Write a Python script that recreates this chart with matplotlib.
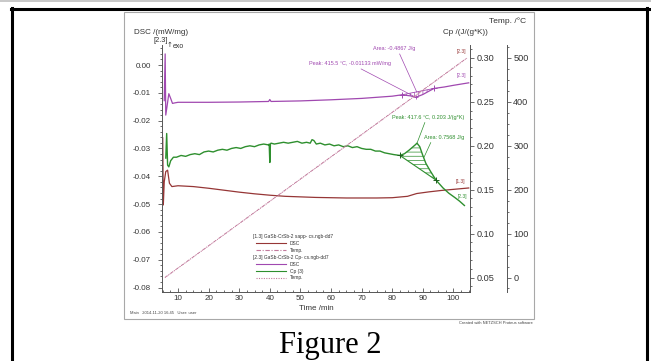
import numpy as np
import matplotlib
matplotlib.use("Agg")
import matplotlib.pyplot as plt
from matplotlib.lines import Line2D
from matplotlib.patches import Rectangle
from matplotlib.ticker import MultipleLocator, FormatStrFormatter

plt.rcParams["font.family"] = ["Liberation Sans", "DejaVu Sans"]
plt.rcParams["axes.unicode_minus"] = False
plt.rcParams["hatch.linewidth"] = 0.5

W, H = 651, 361

# [1.3] DSC (red), time /min vs DSC /(mW/mg)
red_t = [5.0, 5.2, 5.5, 6.0, 6.6, 7.2, 8.0, 10, 15, 20, 25, 30, 35, 40, 45, 50, 55, 60,
         65, 70, 75, 80, 85, 88, 92, 96, 100, 105]
red_dsc = [-0.0262, -0.0503, -0.0420, -0.0383, -0.0378, -0.0425, -0.0437, -0.0434, -0.0437,
           -0.0443, -0.0450, -0.0457, -0.0463, -0.0468, -0.0472, -0.0474, -0.0476, -0.0477,
           -0.0478, -0.0478, -0.0478, -0.0477, -0.0472, -0.0462, -0.0456, -0.0451, -0.0447, -0.0442]

# [2.3] DSC (purple)
purple_t = [5.5, 5.8, 6.0, 6.4, 7.0, 7.6, 8.2, 9, 10, 20, 30, 39.6, 40.0, 40.4, 50, 60, 70,
            80, 83.2, 86, 87.7, 90, 92, 93.7, 97, 100, 105]
purple_dsc = [-0.0128, 0.0040, -0.0180, -0.0150, -0.0103, -0.0120, -0.0138, -0.0136, -0.0134,
              -0.0134, -0.0133, -0.0131, -0.0124, -0.0131, -0.0129, -0.0125, -0.0120,
              -0.0112, -0.0107, -0.0111, -0.0116, -0.0106, -0.0094, -0.0084, -0.0079, -0.0073, -0.0064]

# [2.3] Cp (3) (green), J/(g*K)
green_t = [6.0, 6.3, 6.6, 7.0, 7.6, 8.5, 9.5, 11, 12.5, 14, 15.5, 17, 18.5, 20, 21.5, 23, 24.5,
           26, 27.5, 29, 30.5, 32, 33.5, 35, 36.5, 38, 39.6, 39.8, 40.0, 40.2, 40.4, 41.5, 43,
           44.5, 46, 47.5, 49, 50.5, 52, 53.2, 53.8, 54.4, 55.2, 56.5, 58, 59.5, 61, 62.5, 64,
           65.5, 67, 68.5, 70, 71.5, 73, 74.5, 76, 77.5, 79, 80.5, 82.5, 84, 85.5, 86.5, 87.5,
           88.1, 89, 90, 91, 92.5, 94.3, 96.6, 98.5, 100.5, 102, 103.6]
green_cp = [0.186, 0.214, 0.178, 0.176, 0.183, 0.187, 0.187, 0.189, 0.188, 0.190, 0.191, 0.190,
            0.193, 0.194, 0.193, 0.195, 0.196, 0.195, 0.197, 0.198, 0.197, 0.199, 0.200, 0.199,
            0.201, 0.202, 0.201, 0.202, 0.181, 0.202, 0.203, 0.202, 0.203, 0.204, 0.203, 0.204,
            0.205, 0.203, 0.204, 0.203, 0.207, 0.206, 0.202, 0.203, 0.201, 0.202, 0.200, 0.201,
            0.199, 0.200, 0.198, 0.199, 0.197, 0.196, 0.196, 0.194, 0.194, 0.192, 0.191, 0.190,
            0.189, 0.191, 0.195, 0.198, 0.201, 0.203, 0.199, 0.189, 0.180, 0.171, 0.161, 0.152,
            0.146, 0.141, 0.137, 0.132]

# Temp. /°C for both runs
temp13_t = [5.7, 104.4]
temp13_c = [0, 500]
temp23_t = [5.8, 104.5]
temp23_c = [0, 500]

# evaluated peaks / areas
purple_marks_t = [83.2, 93.7]
purple_marks_dsc = [-0.0107, -0.0084]
green_marks_t = [82.5, 94.3]
green_marks_cp = [0.189, 0.161]

C_RED = "#963636"
C_PUR = "#a048b0"
C_GRN = "#2e8f2e"
C_TMP = "#c27a9c"
C_AX = "#555555"


def fx(x):
    return x / W


def fy(y):
    return 1 - y / H


fig = plt.figure(figsize=(W / 100, H / 100), dpi=100)

# page frame
fig.add_artist(Line2D([0, 1], [fy(0.8), fy(0.8)], color="#c8c8c8", lw=1.4, transform=fig.transFigure))
fig.add_artist(Line2D([fx(11), fx(649)], [fy(8.6), fy(8.6)], color="black", lw=2.2, transform=fig.transFigure))
fig.add_artist(Line2D([fx(12), fx(12)], [fy(8), 0], color="black", lw=2.2, transform=fig.transFigure))
fig.add_artist(Line2D([fx(647), fx(647)], [fy(8), 0], color="black", lw=2.2, transform=fig.transFigure))
fig.add_artist(Rectangle((fx(124), fy(319)), (534 - 124) / W, (319 - 12) / H, facecolor="white",
                         edgecolor="#a8a8a8", lw=0.8, transform=fig.transFigure, zorder=-5))

ax = fig.add_axes([fx(162), fy(292), (470 - 162) / W, (292 - 45) / H])
ax.patch.set_alpha(0)
ax2 = ax.twinx()
ax3 = ax.twinx()

ax.set_xlim(4.77, 105.42)
ax.set_ylim(-0.0816, 0.0072)
ax2.set_ylim(0.0335, 0.3148)
ax3.set_ylim(-33.0, 529.6)

# curves
ax.plot(red_t, red_dsc, color=C_RED, lw=0.9)
ax.plot(purple_t, purple_dsc, color=C_PUR, lw=0.9)
ax2.plot(green_t, green_cp, color=C_GRN, lw=1.0)
ax3.plot(temp13_t, temp13_c, color=C_TMP, lw=0.6, ls=(0, (4, 1.5, 1, 1.5)))
ax3.plot(temp23_t, temp23_c, color=C_TMP, lw=0.6, ls=(0, (1, 1.2)))

# purple peak evaluation
ax.plot(purple_marks_t, purple_marks_dsc, color=C_PUR, lw=0.6)
ax.plot(purple_marks_t, purple_marks_dsc, "+", color=C_PUR, ms=4, mew=0.7)
pt = np.array(purple_t)
pm = (pt >= purple_marks_t[0]) & (pt <= purple_marks_t[1])
pseg_t = np.concatenate(([purple_marks_t[0]], pt[pm], [purple_marks_t[1]]))
pseg_v = np.interp(pseg_t, purple_t, purple_dsc)
pbase = np.interp(pseg_t, purple_marks_t, purple_marks_dsc)
ax.fill_between(pseg_t, pseg_v, pbase, facecolor="none", edgecolor=C_PUR, hatch="||||", lw=0)
ax.plot([87.7], [-0.0116], "+", color=C_PUR, ms=3.5, mew=0.6)

# green peak evaluation
ax2.plot(green_marks_t, green_marks_cp, color=C_GRN, lw=0.8)
ax2.plot(green_marks_t, green_marks_cp, "+", color="#1f5f1f", ms=4.5, mew=0.7)
gt = np.array(green_t)
gm = (gt >= green_marks_t[0]) & (gt <= green_marks_t[1])
gseg_t = gt[gm]
gseg_v = np.array(green_cp)[gm]
gbase = np.interp(gseg_t, green_marks_t, green_marks_cp)
ax2.fill_between(gseg_t, gseg_v, gbase, facecolor="none", edgecolor=C_GRN, hatch="----", lw=0)

# annotations
lp = dict(arrowstyle="-", lw=0.5, shrinkA=0, shrinkB=0)
ax.annotate("Peak: 415.5 \u00b0C, -0.01133 mW/mg", xy=(87.7, -0.0116), xytext=(52.8, 0.0005),
            fontsize=4, color=C_PUR, va="center", ha="left",
            arrowprops=dict(lp, color=C_PUR, relpos=(0.57, 0)))
ax.annotate("Area: -0.4867 J/g", xy=(88.1, -0.0099), xytext=(73.7, 0.0059),
            fontsize=4, color=C_PUR, va="center", ha="left",
            arrowprops=dict(lp, color=C_PUR, relpos=(0.6, 0)))
ax2.annotate("Peak: 417.6 \u00b0C, 0.203 J/(g*K)", xy=(88.1, 0.203), xytext=(79.9, 0.2326),
             fontsize=4, color=C_GRN, va="center", ha="left",
             arrowprops=dict(lp, color=C_GRN, relpos=(0.47, 0)))
ax2.annotate("Area: 0.7568 J/g", xy=(90.4, 0.187), xytext=(90.4, 0.2098),
             fontsize=4, color=C_GRN, va="center", ha="left",
             arrowprops=dict(lp, color=C_GRN, relpos=(0.2, 0)))

# curve end labels
ax3.text(102.6, 515, "[2.3]", fontsize=3.5, color=C_RED, ha="center", va="center")
ax.text(102.6, -0.0036, "[2.3]", fontsize=3.5, color=C_PUR, ha="center", va="center")
ax.text(102.2, -0.0418, "[1.3]", fontsize=3.5, color=C_RED, ha="center", va="center")
ax2.text(102.8, 0.142, "[2.3]", fontsize=3.5, color=C_GRN, ha="center", va="center")

# axes styling
for a in (ax, ax2, ax3):
    for s in a.spines.values():
        s.set_visible(False)
        s.set_color(C_AX)
        s.set_linewidth(0.7)
ax.spines["left"].set_visible(True)
ax.spines["bottom"].set_visible(True)
ax2.spines["right"].set_visible(True)
ax3.spines["right"].set_visible(True)
ax3.spines["right"].set_position(("axes", 1 + 37 / 308))

ax.xaxis.set_major_locator(MultipleLocator(10))
ax.xaxis.set_minor_locator(MultipleLocator(2.5))
ax.yaxis.set_major_locator(MultipleLocator(0.01))
ax.yaxis.set_minor_locator(MultipleLocator(0.002))
ax.yaxis.set_major_formatter(FormatStrFormatter("%.2f"))
ax2.yaxis.set_major_locator(MultipleLocator(0.05))
ax2.yaxis.set_minor_locator(MultipleLocator(0.01))
ax2.yaxis.set_major_formatter(FormatStrFormatter("%.2f"))
ax3.yaxis.set_major_locator(MultipleLocator(100))
ax3.yaxis.set_minor_locator(MultipleLocator(25))

ax.tick_params(axis="x", which="both", direction="in", top=False, colors=C_AX,
               labelcolor="#333333", labelsize=5.8, pad=2.5, width=0.6)
ax.tick_params(axis="x", which="major", length=3)
ax.tick_params(axis="x", which="minor", length=1.6)
ax.tick_params(axis="y", which="both", direction="out", right=False, colors=C_AX,
               labelcolor="#333333", labelsize=5.8, pad=5, width=0.6)
ax.tick_params(axis="y", which="major", length=3)
ax.tick_params(axis="y", which="minor", length=1.4)
for a, pd_ in ((ax2, 1.5), (ax3, 1.5)):
    a.tick_params(axis="y", which="both", direction="out", colors=C_AX,
                  labelcolor="#333333", labelsize=6.6, pad=pd_, width=0.6)
    a.tick_params(axis="y", which="major", length=3)
    a.tick_params(axis="y", which="minor", length=1.4)

# axis titles
fig.text(fx(134), fy(33), "DSC /(mW/mg)", fontsize=5.8, color="#333333", va="center", ha="left")
fig.text(fx(153), fy(41), "[2.3]", fontsize=5.3, color="#333333", va="center", ha="left")
fig.text(fx(167), fy(45), "\u2191", fontsize=5, color="#333333", va="center", ha="left",
         family="DejaVu Sans")
fig.text(fx(173), fy(47), "exo", fontsize=5, color="#333333", va="center", ha="left")
fig.text(fx(526), fy(21), "Temp. /\u00b0C", fontsize=6, color="#333333", va="center", ha="right")
fig.text(fx(488), fy(33), "Cp /(J/(g*K))", fontsize=5.8, color="#333333", va="center", ha="right")
fig.text(fx(316), fy(308), "Time /min", fontsize=5.8, color="#333333", va="center", ha="center")

# legend drawn by hand
leg_rows = [("[1.3] GaSb-CrSb-2 sapp- cs.ngb-dd7", None, None),
            ("DSC", C_RED, "-"),
            ("Temp.", C_TMP, (0, (4, 1.5, 1, 1.5))),
            ("[2.3] GaSb-CrSb-2 Cp- cs.ngb-dd7", None, None),
            ("DSC", C_PUR, "-"),
            ("Cp (3)", C_GRN, "-"),
            ("Temp.", C_TMP, (0, (1, 1.2)))]
for i, (lab, col, ls) in enumerate(leg_rows):
    yy = 236.5 + i * 6.9
    if col is None:
        fig.text(fx(253), fy(yy), lab, fontsize=3.5, color="#333333", va="center", ha="left")
    else:
        fig.add_artist(Line2D([fx(256), fx(286)], [fy(yy), fy(yy)], color=col, lw=0.8, ls=ls,
                              transform=fig.transFigure))
        fig.text(fx(290), fy(yy), lab, fontsize=3.5, color="#333333", va="center", ha="left")

fig.text(fx(130), fy(313), "Main   2014-11-20 16:45   User: user", fontsize=3, color="#444444",
         va="center", ha="left")
fig.text(fx(533), fy(322.5), "Created with NETZSCH Proteus software", fontsize=2.9, color="#444444",
         va="center", ha="right")

fig.text(fx(330), fy(345), "Figure 2", fontsize=22, family="Liberation Serif", color="black",
         va="center", ha="center")

fig.savefig("out.png", dpi=100)
